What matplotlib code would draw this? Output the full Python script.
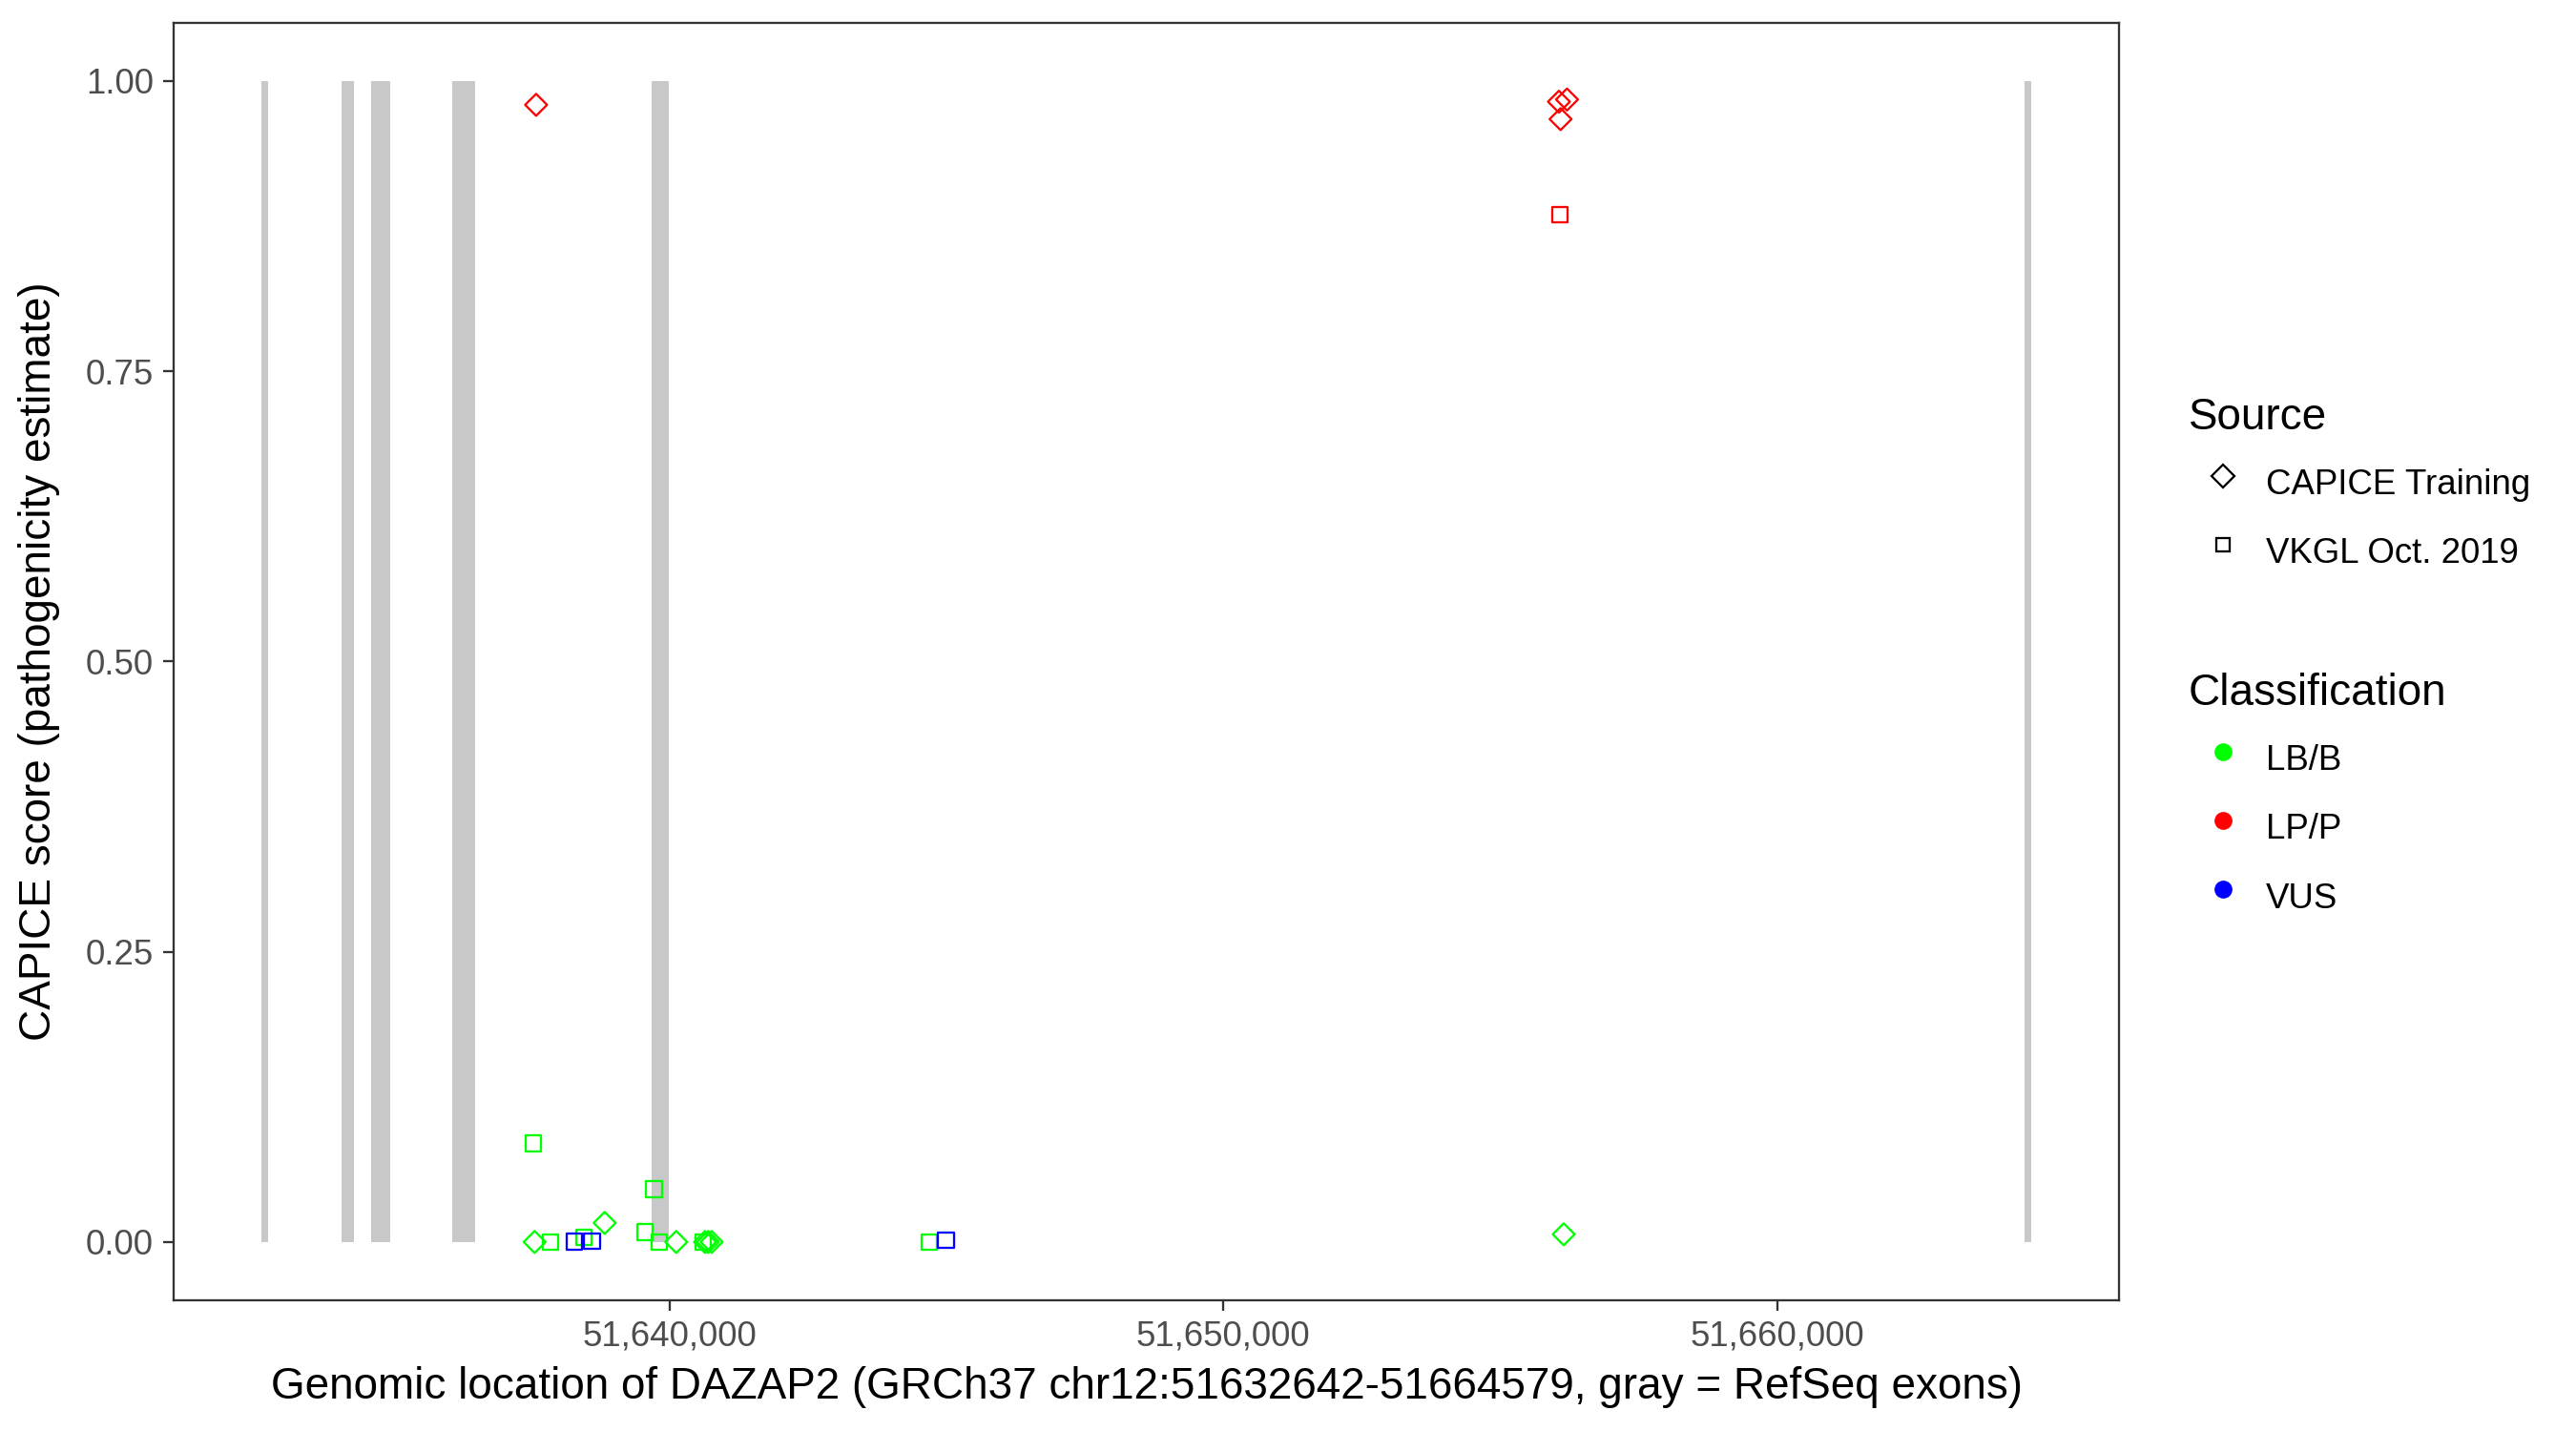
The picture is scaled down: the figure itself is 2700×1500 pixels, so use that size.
import matplotlib
matplotlib.use('Agg')
import matplotlib.pyplot as plt
from matplotlib.lines import Line2D
from matplotlib.ticker import FuncFormatter, FixedLocator

plt.rcParams['font.family'] = ['Liberation Sans', 'DejaVu Sans']

# ---- data ----
exon_start = [51632642, 51634081, 51634615, 51636079, 51639678, 51664470]
exon_end = [51632755, 51634305, 51634959, 51636492, 51639988, 51664579]

capice_pos = [51637594, 51656060, 51656205, 51656089,
              51637567, 51638832, 51640124, 51640644, 51640697, 51640763, 51656146]
capice_score = [0.9795, 0.9822, 0.9841, 0.9672,
                0.000, 0.0164, 0.000, 0.000, 0.000, 0.000, 0.0066]
capice_class = ['LP/P', 'LP/P', 'LP/P', 'LP/P',
                'LB/B', 'LB/B', 'LB/B', 'LB/B', 'LB/B', 'LB/B', 'LB/B']

vkgl_pos = [51656072, 51637541, 51639723, 51639557, 51637858, 51638457,
            51639821, 51640611, 51644698, 51638280, 51638602, 51644994]
vkgl_score = [0.8852, 0.085, 0.0454, 0.0085, 0.000, 0.004,
              0.000, 0.000, 0.000, 0.0003, 0.001, 0.0016]
vkgl_class = ['LP/P', 'LB/B', 'LB/B', 'LB/B', 'LB/B', 'LB/B',
              'LB/B', 'LB/B', 'LB/B', 'VUS', 'VUS', 'VUS']

classes = ['LB/B', 'LP/P', 'VUS']
class_colors = {'LB/B': '#00FF00', 'LP/P': '#FF0000', 'VUS': '#0000FF'}
x_ticks = [51640000, 51650000, 51660000]
y_ticks = [0.0, 0.25, 0.5, 0.75, 1.0]

gene_start, gene_end = 51632642, 51664579

# ---- figure ----
fig = plt.figure(figsize=(9, 5), dpi=300)
ax = fig.add_axes([0.06730, 0.09153, 0.75540, 0.89240])

widths = [e - s for s, e in zip(exon_start, exon_end)]
ax.bar(exon_start, [1.0] * len(exon_start), width=widths, bottom=0,
       align='edge', color='#C8C8C8', linewidth=0, zorder=1)

mlw = 0.55
for cls in classes:
    xs = [p for p, c in zip(capice_pos, capice_class) if c == cls]
    ys = [s for s, c in zip(capice_score, capice_class) if c == cls]
    if xs:
        ax.scatter(xs, ys, marker='D', s=3.9 ** 2, facecolors='none',
                   edgecolors=class_colors[cls], linewidths=mlw, zorder=3)
    xs = [p for p, c in zip(vkgl_pos, vkgl_class) if c == cls]
    ys = [s for s, c in zip(vkgl_score, vkgl_class) if c == cls]
    if xs:
        ax.scatter(xs, ys, marker='s', s=3.9 ** 2, facecolors='none',
                   edgecolors=class_colors[cls], linewidths=mlw, zorder=3)

span = gene_end - gene_start
ax.set_xlim(gene_start - 0.05 * span, gene_end + 0.05 * span)
ax.set_ylim(-0.05, 1.05)

ax.xaxis.set_major_locator(FixedLocator(x_ticks))
ax.xaxis.set_major_formatter(FuncFormatter(lambda v, p: f"{int(round(v)):,}"))
ax.yaxis.set_major_locator(FixedLocator(y_ticks))
ax.yaxis.set_major_formatter(FuncFormatter(lambda v, p: f"{v:.2f}"))

for sp in ax.spines.values():
    sp.set_color('#333333')
    sp.set_linewidth(0.55)
ax.tick_params(axis='both', length=2.75, width=0.55, color='#333333',
               labelsize=8.8, labelcolor='#4D4D4D', pad=2.2)

ax.set_xlabel('Genomic location of DAZAP2 (GRCh37 chr12:51632642-51664579, gray = RefSeq exons)',
              fontsize=11, color='black', va='center')
ax.xaxis.set_label_coords(0.5, -0.0685)
ax.set_ylabel('CAPICE score (pathogenicity estimate)', fontsize=11,
              color='black', va='center')
ax.yaxis.set_label_coords(-0.0690, 0.5)

# ---- legends ----
src_handles = [
    Line2D([], [], linestyle='none', marker='D', markersize=4.1,
           markerfacecolor='none', markeredgecolor='black', markeredgewidth=mlw),
    Line2D([], [], linestyle='none', marker='s', markersize=3.5,
           markerfacecolor='none', markeredgecolor='black', markeredgewidth=mlw),
]
src_labels = ['CAPICE Training', 'VKGL Oct. 2019']
cls_handles = [Line2D([], [], linestyle='none', marker='o', markersize=4.5,
                      markerfacecolor=class_colors[c], markeredgecolor='none')
               for c in classes]

common = dict(frameon=False, fontsize=8.8, title_fontsize=11,
              handlelength=1.9636, handleheight=1.86, handletextpad=0.25,
              labelspacing=0.52, borderpad=0, borderaxespad=0,
              alignment='left', loc='upper left')

leg1 = fig.legend(src_handles, src_labels, title='Source',
                  bbox_to_anchor=(0.8496, 0.7224), **common)
leg2 = fig.legend(cls_handles, classes, title='Classification',
                  bbox_to_anchor=(0.8496, 0.5298), **common)

fig.savefig('out.png', dpi=300, facecolor='white')
